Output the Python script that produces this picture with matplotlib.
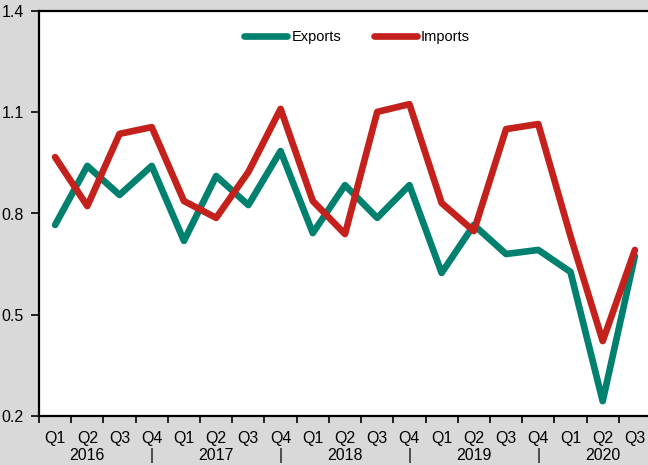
import numpy as np
import matplotlib
matplotlib.use('Agg')
from matplotlib import pyplot as plt

quarters = ['Q1', 'Q2', 'Q3', 'Q4'] * 4 + ['Q1', 'Q2', 'Q3']
year_row = ['', '2016', '', '|', '', '2017', '', '|', '', '2018', '', '|',
            '', '2019', '', '|', '', '2020', '']
exports = [0.766, 0.941, 0.855, 0.941, 0.719, 0.911, 0.825, 0.985, 0.742, 0.884,
           0.787, 0.884, 0.624, 0.766, 0.680, 0.692, 0.627, 0.244, 0.674]
imports = [0.967, 0.822, 1.036, 1.056, 0.837, 0.787, 0.923, 1.110, 0.837, 0.739,
           1.101, 1.124, 0.831, 0.748, 1.050, 1.065, 0.733, 0.422, 0.692]
yticks = [0.2, 0.5, 0.8, 1.1, 1.4]

plt.rcParams['font.family'] = ['Liberation Sans Narrow', 'Liberation Sans', 'DejaVu Sans']

fig = plt.figure(figsize=(6.48, 4.65), dpi=100, facecolor='#d9d9d9')
ax = fig.add_axes([39 / 648, 49 / 465, 612 / 648, 405 / 465])
ax.set_facecolor('white')

x = np.arange(len(quarters))
ax.plot(x, exports, color='#00806f', lw=4.8, solid_capstyle='round',
        solid_joinstyle='round', label='Exports')
ax.plot(x, imports, color='#c4201c', lw=4.8, solid_capstyle='round',
        solid_joinstyle='round', label='Imports')

ax.set_xlim(-0.5, len(quarters) - 0.5)
ax.set_ylim(0.2, 1.4)
ax.set_yticks(yticks)
ax.set_yticklabels(['%.1f' % v for v in yticks])

ax.set_xticks(x)
ax.set_xticklabels([q + '\n' + y for q, y in zip(quarters, year_row)],
                   linespacing=1.15)
ax.set_xticks(np.arange(len(quarters) + 1) - 0.5, minor=True)
ax.tick_params(axis='x', which='major', length=0, pad=11, labelsize=11.5)
ax.tick_params(axis='x', which='minor', length=5, width=1.2, direction='out')
ax.tick_params(axis='y', length=6, width=1.2, direction='out', labelsize=11.5, pad=5)

for s in ['left', 'bottom', 'top']:
    ax.spines[s].set_linewidth(1.6)
ax.spines['right'].set_visible(False)

ax.legend(loc='upper center', bbox_to_anchor=(0.52, 0.985), ncol=2, frameon=False,
          fontsize=10.5, handlelength=2.95, handletextpad=0.3, columnspacing=2.2)

plt.savefig('out.png', dpi=100, facecolor=fig.get_facecolor())
